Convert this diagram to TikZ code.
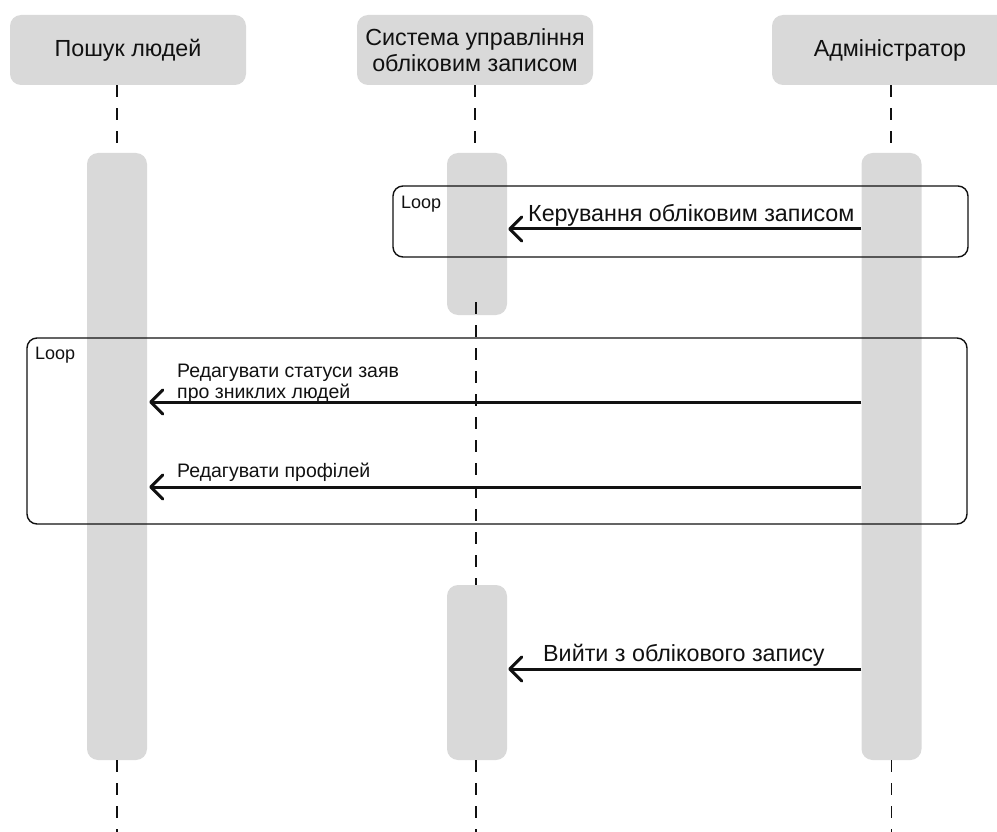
\documentclass[tikz,border=0pt]{standalone}
\usepackage{fontspec}
\setmainfont{Liberation Sans}
\usetikzlibrary{arrows.meta}
\definecolor{boxgray}{HTML}{D9D9D9}
\definecolor{ink}{HTML}{111111}
\begin{document}
\begin{tikzpicture}[x=1pt,y=-1pt,
  headbox/.style={fill=boxgray, rounded corners=11pt, minimum width=236pt,
    minimum height=70pt, inner sep=0pt, align=center, text=ink,
    font=\fontsize{23.3}{25.5}\selectfont},
  activation/.style={fill=boxgray, rounded corners=11pt, minimum width=60pt, inner sep=0pt},
  lifeline/.style={draw=ink, line width=1.5pt, dash pattern=on 12pt off 11pt},
  loopframe/.style={draw=ink, line width=1.4pt, rounded corners=10pt},
  looplabel/.style={anchor=base west, inner sep=0pt, text=ink, font=\fontsize{18}{20}\selectfont},
  msg/.style={draw=ink, line width=3pt, -{Straight Barb[length=12pt,width=24pt,round]}},
  biglabel/.style={anchor=base west, inner sep=0pt, text=ink, font=\fontsize{23.3}{26}\selectfont},
  smalllabel/.style={anchor=base west, inner sep=0pt, text=ink, align=left, font=\fontsize{19.5}{21}\selectfont},
]
\useasboundingbox (0,0) rectangle (997,832);
\begin{scope}
\clip (0,0) rectangle (997,832);

% participants
\node[headbox] (h1) at (128,50) {Пошук людей};
\node[headbox] (h2) at (475,50) {Система управління\\обліковим записом};
\node[headbox] (h3) at (890,50) {Адміністратор};

\coordinate (bottom) at (0,832);

% lifelines above the activations
\draw[lifeline] (h1.south -| 117,0) -- (117,153);
\draw[lifeline] (h2.south) -- (475,153);
\draw[lifeline] (h3.south -| 891,0) -- (891,153);

% activation bars
\node[activation, minimum height=607pt] (a1) at (117,456.5) {};
\node[activation, minimum height=162pt] (a2) at (477,234) {};
\node[activation, minimum height=607pt] (a3) at (891.5,456.5) {};
\node[activation, minimum height=175pt] (a4) at (477,672.5) {};

% lifeline between the two system activations
\draw[lifeline] (476,302) -- (a4.north -| 476,0);

% lifelines below the activations
\draw[lifeline] (a1.south) -- (a1.south |- bottom);
\draw[lifeline] (476,760) -- (476,832);
\draw[lifeline] (a3.south) -- (a3.south |- bottom);

% first loop: account management
\node[loopframe, minimum width=575pt, minimum height=71pt, inner sep=0pt] (loop1) at (680.5,221.5) {};
\node[looplabel] (loop1lbl) at (401,208) {Loop};
\coordinate (m1) at (0,229);
\draw[msg] (a3.west |- m1) -- ([xshift=1pt]a2.east |- m1);
\node[biglabel] (m1lbl) at (528,222) {Керування обліковим записом};

% second loop: editing requests and profiles
\node[loopframe, minimum width=940pt, minimum height=186pt, inner sep=0pt] (loop2) at (497,431) {};
\node[looplabel] (loop2lbl) at (35,359) {Loop};
\coordinate (m2) at (0,402);
\draw[msg] (a3.west |- m2) -- ([xshift=2pt]a1.east |- m2);
\node[smalllabel] (m2lbl) at (177,398) {Редагувати статуси заяв\\про зниклих людей};
\coordinate (m3) at (0,487);
\draw[msg] (a3.west |- m3) -- ([xshift=2pt]a1.east |- m3);
\node[smalllabel] (m3lbl) at (177,477) {Редагувати профілей};

% logout
\coordinate (m4) at (0,669);
\draw[msg] (a3.west |- m4) -- ([xshift=1pt]a4.east |- m4);
\node[biglabel] (m4lbl) at (543,661) {Вийти з облікового запису};
\end{scope}
\end{tikzpicture}
\end{document}
